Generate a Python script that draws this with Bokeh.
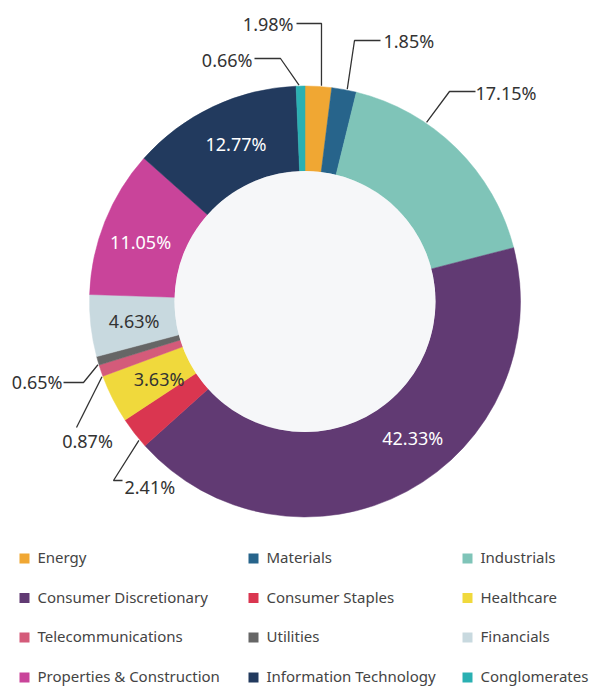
import math
from bokeh.plotting import figure
from bokeh.models import Range1d, ColumnDataSource
from bokeh.core.properties import value
from bokeh.embed import file_html
from bokeh.resources import INLINE

# ---------------- data ----------------
sectors = ["Energy", "Materials", "Industrials", "Consumer Discretionary",
           "Consumer Staples", "Healthcare", "Telecommunications", "Utilities",
           "Financials", "Properties & Construction", "Information Technology",
           "Conglomerates"]
shares = [1.98, 1.85, 17.15, 42.33, 2.41, 3.63, 0.87, 0.65, 4.63, 11.05, 12.77, 0.66]
colors = ["#f0a733", "#27648b", "#7fc4b8", "#613a73", "#da3650", "#f0d93c",
          "#d45b7a", "#666666", "#c8d9df", "#c9449a", "#223a5e", "#2ab0b2"]

# ---------------- layout / style ----------------
W, H = 590, 687
CX, CY_PX = 304.5, 301.0
R_IN, R_OUT = 130.5, 215.5
FONT = "Noto Sans"
TXT = "#333333"
LABEL_SIZE = "18px"
LEGEND_SIZE = "15px"


def Y(py):
    return H - py


p = figure(width=W, height=H, x_range=Range1d(0, W), y_range=Range1d(0, H),
           output_backend="svg", toolbar_location=None, min_border=0,
           x_axis_type=None, y_axis_type=None, outline_line_color=None,
           background_fill_color="white", border_fill_color="white")
p.grid.visible = False

total = sum(shares)
starts, ends, mids = [], [], []
cum = 0.0
for v in shares:
    a0 = cum / total * 2 * math.pi
    cum += v
    a1 = cum / total * 2 * math.pi
    starts.append(math.pi / 2 - a0)
    ends.append(math.pi / 2 - a1)
    mids.append((a0 + a1) / 2)  # clockwise from top

src = ColumnDataSource(dict(start=starts, end=ends, color=colors, name=sectors))
p.annular_wedge(x=CX, y=Y(CY_PX), inner_radius=R_IN, outer_radius=R_OUT,
                start_angle="start", end_angle="end", direction="clock",
                fill_color="color", line_color="color", line_width=0.5, source=src)
p.circle(x=[CX], y=[Y(CY_PX)], radius=R_IN, fill_color="#f6f7f9", line_color=None)


def polar(phi, r):
    return CX + r * math.sin(phi), Y(CY_PX) + r * math.cos(phi)


# inside labels: index -> (text color, angle nudge deg, radius)
inside = {10: ("white", 1.7, 172), 9: ("white", -1.7, 175), 8: (TXT, 0, 172),
          5: (TXT, -1, 165), 3: ("white", -10, 174)}
for i, (c, nd, r) in inside.items():
    x, y = polar(mids[i] + math.radians(nd), r)
    p.text(x=[x], y=[y], text=[f"{shares[i]:.2f}%"], text_color=c,
           text_font=value(FONT), text_font_size=LABEL_SIZE,
           text_align="center", text_baseline="middle")

# outside labels: index -> (angle nudge, elbow px, end px, text px, align)
outside = {
    0: (0.8, (321, 23), (296, 23), (293, 23), "right"),
    1: (0.8, (354, 40), (380, 40), (383, 40), "left"),
    2: (-10.5, (449, 91), (475, 91), (475, 92), "left"),
    11: (-0.4, (280, 58), (254, 58), (252, 59), "right"),
    7: (-1.0, (83, 382), (63, 382), (62, 381), "right"),
    6: (-1.6, None, (76, 427), (87, 440), "center"),
    4: (-2.2, (113, 480), (122, 480), (124, 486), "left"),
}
for i, (nd, elbow, end, tpos, align) in outside.items():
    ax, ay = polar(mids[i] + math.radians(nd), R_OUT + 1)
    xs, ys = [ax], [ay]
    if elbow is not None:
        xs.append(elbow[0]); ys.append(Y(elbow[1]))
    xs.append(end[0]); ys.append(Y(end[1]))
    p.line(xs, ys, line_color=TXT, line_width=1.3)
    p.text(x=[tpos[0]], y=[Y(tpos[1])], text=[f"{shares[i]:.2f}%"], text_color=TXT,
           text_font=value(FONT), text_font_size=LABEL_SIZE,
           text_align=align, text_baseline="middle")

# legend
col_x = [24, 253, 467]
row_y = [558, 597.5, 637, 677]
lx = [col_x[i % 3] for i in range(len(sectors))]
ly = [Y(row_y[i // 3] - 1.5) for i in range(len(sectors))]
p.scatter(x=lx, y=[Y(row_y[i // 3]) for i in range(len(sectors))], marker="square",
          size=10, fill_color=colors, line_color=None)
p.text(x=[x + 13 for x in lx], y=ly, text=sectors, text_color="#444444",
       text_font=value(FONT), text_font_size=LEGEND_SIZE,
       text_align="left", text_baseline="middle")

open("out.html", "w").write(file_html(p, INLINE))
